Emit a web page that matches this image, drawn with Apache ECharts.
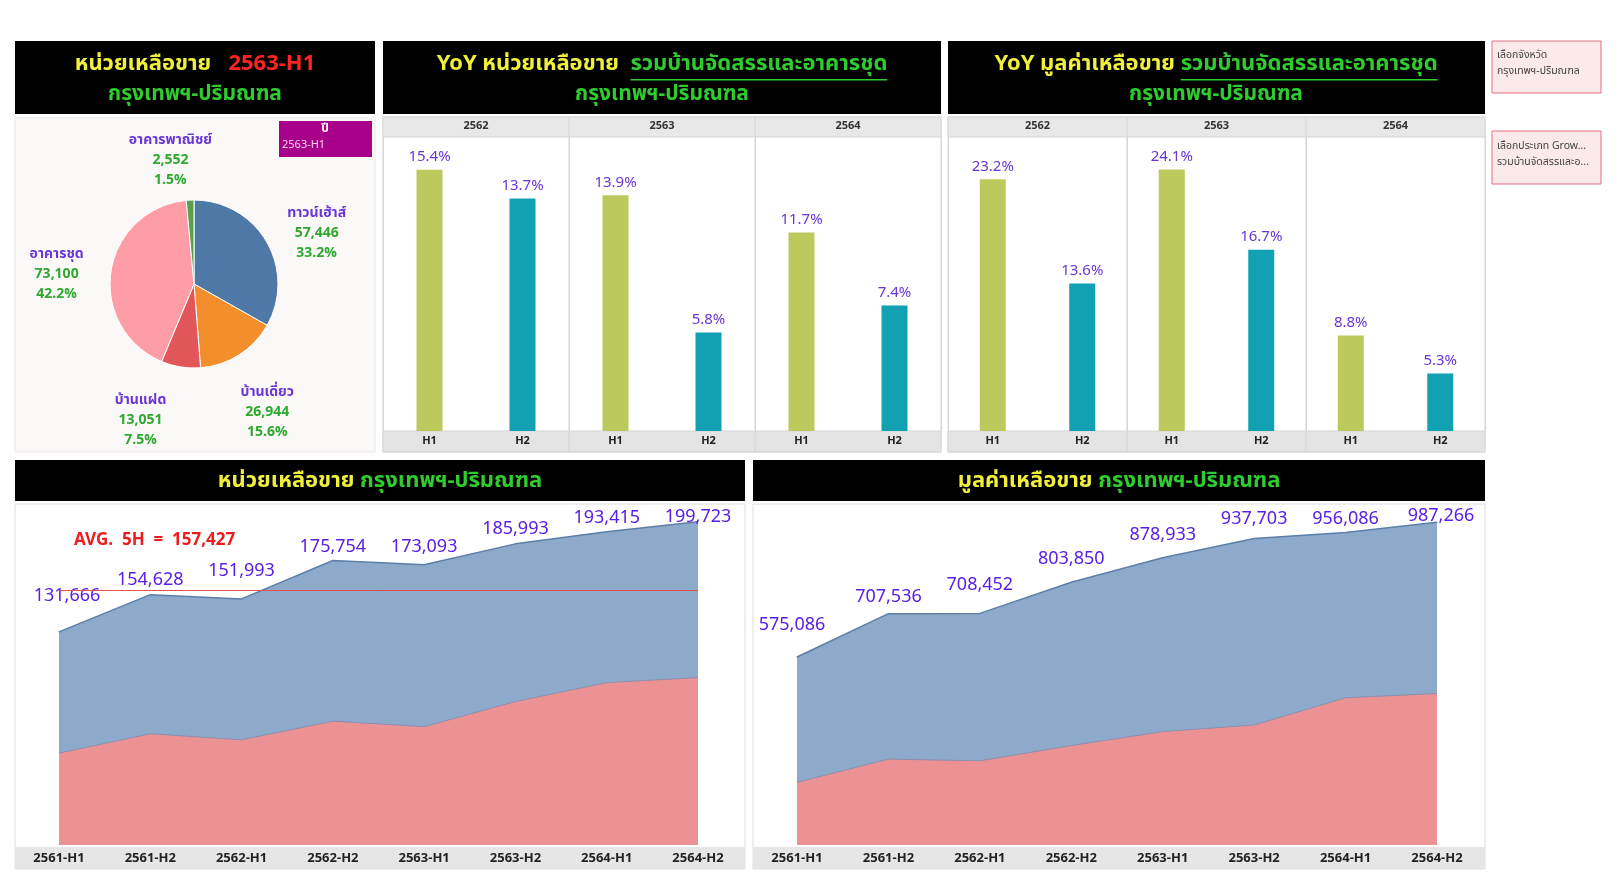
<!DOCTYPE html>
<html><head><meta charset="utf-8">
<script src="https://cdn.jsdelivr.net/npm/echarts@6/dist/echarts.min.js"></script>
<style>html,body{margin:0;padding:0;background:#fff}#c{width:1620px;height:881px}</style>
</head><body><div id="c"></div><script>
const FONT = "Tahoma, 'Noto Sans Thai', 'Noto Sans', 'DejaVu Sans', sans-serif";

// ---------- DATA ----------
const selectedPeriod = '2563-H1';
const pieNames  = ['ทาวน์เฮ้าส์', 'บ้านเดี่ยว', 'บ้านแฝด', 'อาคารชุด', 'อาคารพาณิชย์'];
const pieValues = [57446, 26944, 13051, 73100, 2552];
const pieColors = ['#4e79a7', '#f28e2b', '#e15759', '#ff9da7', '#59a14f'];

const yearCats = ['2562', '2563', '2564'];
const halfCats = ['H1', 'H2', 'H1', 'H2', 'H1', 'H2'];
const yoyUnits = [15.4, 13.7, 13.9, 5.8, 11.7, 7.4];
const yoyValue = [23.2, 13.6, 24.1, 16.7, 8.8, 5.3];

const periods    = ['2561-H1', '2561-H2', '2562-H1', '2562-H2', '2563-H1', '2563-H2', '2564-H1', '2564-H2'];
const unitsTotal = [131666, 154628, 151993, 175754, 173093, 185993, 193415, 199723];
const unitsCondo = [56800, 68700, 65000, 76500, 73100, 88600, 100300, 103400];
const valueTotal = [575086, 707536, 708452, 803850, 878933, 937703, 956086, 987266];
const valueCondo = [191700, 262700, 257600, 304300, 346900, 367200, 450300, 463500];
const avgUnits5H = Math.round(unitsTotal.slice(0, 5).reduce((a, b) => a + b, 0) / 5);

// label nudges (style only, [dx, dy] in px)
const pieLabelNudge   = [[0, 22], [-3, 9], [-31, -3], [3, 13], [-17, 19]];
const unitsLabelNudge = [[8, -15], [0, 6], [0, -7], [0, 7], [0, 3], [0, 6], [0, 7], [0, 16]];
const valueLabelNudge = [[-5, -11], [0, 4], [0, -8], [0, -2], [0, -2], [0, 1], [0, 7], [4, 15]];

// ---------- helpers ----------
const YEL = '#f0f03c', GRN = '#2fcc2f', RED = '#ff2424', PUR = '#6a36d6', LBL = '#5a1fe6';
const fmt = v => echarts.format.addCommas(v);
const mctx = document.createElement('canvas').getContext('2d');
function headerLine(segs, cx, cy, size) {
  const font = `bold ${size}px ${FONT}`;
  mctx.font = font;
  const w = segs.map(s => mctx.measureText(s.t).width);
  let x = cx - w.reduce((a, b) => a + b, 0) / 2;
  const out = [];
  segs.forEach((s, i) => {
    out.push({ type: 'text', x: x, y: cy, z: 100,
      style: { text: s.t, fill: s.c, font: font, textAlign: 'left', align: 'left',
               textVerticalAlign: 'middle', verticalAlign: 'middle' } });
    if (s.u) out.push({ type: 'line', z: 100,
      shape: { x1: x, y1: cy + size * 0.62, x2: x + w[i], y2: cy + size * 0.62 },
      style: { stroke: s.c, lineWidth: 1.5 } });
    x += w[i];
  });
  return out;
}
function rect(x, y, w, h, fill, stroke, z) {
  return { type: 'rect', z: z === undefined ? -10 : z, shape: { x, y, width: w, height: h },
           style: { fill: fill, stroke: stroke || null, lineWidth: 1 } };
}
function txt(x, y, t, color, font, align, z) {
  return { type: 'text', x, y, z: z || 100,
    style: { text: t, fill: color, font: font, textAlign: align || 'left', align: align || 'left',
             textVerticalAlign: 'middle', verticalAlign: 'middle' } };
}

// ---------- layout ----------
const G1 = { left: 383, top: 137, width: 558, height: 294 };
const G2 = { left: 948, top: 137, width: 537, height: 294 };
const A1 = { left: 59, top: 505, width: 639, height: 340 };
const A2 = { left: 797, top: 505, width: 640, height: 340 };

const graphics = [];
graphics.push(rect(15, 41, 360, 73, '#000'));
graphics.push(rect(383, 41, 558, 73, '#000'));
graphics.push(rect(948, 41, 537, 73, '#000'));
graphics.push(rect(15, 460, 730, 41, '#000'));
graphics.push(rect(753, 460, 732, 41, '#000'));
graphics.push(rect(15, 118, 360, 334, '#fbf8f8', '#ece6e6', -20));
[G1, G2].forEach(g => {
  graphics.push(rect(g.left, 117, g.width, 335, '#fff', '#d6d6d6', -20));
  graphics.push(rect(g.left, 117, g.width, 20, '#e8e8e8', '#d6d6d6'));
  graphics.push(rect(g.left, 431, g.width, 21, '#e4e4e4', '#d6d6d6'));
  for (let i = 1; i < 3; i++) {
    const x = g.left + g.width * i / 3;
    graphics.push({ type: 'line', z: -5, shape: { x1: x, y1: 117, x2: x, y2: 452 }, style: { stroke: '#d6d6d6', lineWidth: 1 } });
  }
});
graphics.push(rect(15, 504, 730, 365, '#fff', '#dedede', -20));
graphics.push(rect(753, 504, 732, 365, '#fff', '#dedede', -20));
graphics.push(rect(15, 847, 730, 22, '#e6e6e6', null));
graphics.push(rect(753, 847, 732, 22, '#e6e6e6', null));

graphics.push(...headerLine([{ t: 'หน่วยเหลือขาย   ', c: YEL }, { t: selectedPeriod, c: RED }], 195, 66, 22));
graphics.push(...headerLine([{ t: 'กรุงเทพฯ-ปริมณฑล', c: GRN }], 195, 96, 21));
graphics.push(...headerLine([{ t: 'YoY ', c: YEL }, { t: 'หน่วยเหลือขาย  ', c: YEL }, { t: 'รวมบ้านจัดสรรและอาคารชุด', c: GRN, u: true }], 662, 66, 22));
graphics.push(...headerLine([{ t: 'กรุงเทพฯ-ปริมณฑล', c: GRN }], 662, 96, 21));
graphics.push(...headerLine([{ t: 'YoY ', c: YEL }, { t: 'มูลค่าเหลือขาย ', c: YEL }, { t: 'รวมบ้านจัดสรรและอาคารชุด', c: GRN, u: true }], 1216, 66, 22));
graphics.push(...headerLine([{ t: 'กรุงเทพฯ-ปริมณฑล', c: GRN }], 1216, 96, 21));
graphics.push(...headerLine([{ t: 'หน่วยเหลือขาย ', c: YEL }, { t: 'กรุงเทพฯ-ปริมณฑล', c: GRN }], 380, 483, 22));
graphics.push(...headerLine([{ t: 'มูลค่าเหลือขาย ', c: YEL }, { t: 'กรุงเทพฯ-ปริมณฑล', c: GRN }], 1119, 483, 22));

graphics.push(rect(279, 121, 93, 36, '#a8008a', null, 50));
graphics.push(txt(325, 130, 'ปี', '#fff', `bold 12px ${FONT}`, 'center'));
graphics.push(txt(282, 146, selectedPeriod, '#f3d2ee', `11px ${FONT}`, 'left'));

graphics.push(rect(1492, 41, 109, 52, '#fce9e9', '#e07080', 50));
graphics.push(txt(1497, 56, 'เลือกจังหวัด', '#444', `10.5px ${FONT}`));
graphics.push(txt(1497, 72, 'กรุงเทพฯ-ปริมณฑล', '#444', `10.5px ${FONT}`));
graphics.push(rect(1492, 131, 109, 53, '#fce9e9', '#e07080', 50));
graphics.push(txt(1497, 147, 'เลือกประเภท Grow...', '#444', `10.5px ${FONT}`));
graphics.push(txt(1497, 163, 'รวมบ้านจัดสรรและอ...', '#444', `10.5px ${FONT}`));

graphics.push(txt(74, 542, 'AVG.  5H  =  ' + fmt(avgUnits5H), '#ee1c1c', `bold 17px ${FONT}`));

// ---------- option ----------
const pieTotal = pieValues.reduce((a, b) => a + b, 0);
const pieData = pieNames.map((n, i) => ({ name: n, value: pieValues[i], itemStyle: { color: pieColors[i] } }));

function barAxes(idx) {
  return [
    { gridIndex: idx, type: 'category', data: halfCats, position: 'bottom',
      axisLine: { show: false }, axisTick: { show: false },
      axisLabel: { color: '#222', fontWeight: 'bold', fontSize: 11, fontFamily: FONT, margin: 5 } },
    { gridIndex: idx, type: 'category', data: yearCats, position: 'top',
      axisLine: { show: false }, axisTick: { show: false },
      splitLine: { show: true, lineStyle: { color: '#d6d6d6' } },
      axisLabel: { color: '#333', fontWeight: 'bold', fontSize: 11, fontFamily: FONT, margin: 5 } }
  ];
}
function barSeries(data, xi, yi) {
  return {
    type: 'bar', xAxisIndex: xi, yAxisIndex: yi, data: data, barWidth: 26,
    itemStyle: { color: p => (p.dataIndex % 2 === 0 ? '#bcc95c' : '#12a1b3') },
    label: { show: true, position: 'top', distance: 4, color: PUR, fontSize: 15, fontFamily: FONT,
             formatter: p => p.value + '%' }
  };
}
function areaAxis(idx) {
  return { gridIndex: idx, type: 'category', data: periods, boundaryGap: false,
    axisLine: { show: false }, axisTick: { show: false },
    axisLabel: { color: '#222', fontWeight: 'bold', fontSize: 13, fontFamily: FONT, margin: 8 } };
}
function areaSeries(total, condo, nudge, xi, yi, withAvg) {
  const s = [{
    type: 'line', xAxisIndex: xi, yAxisIndex: yi, data: total, z: 2,
    symbol: 'circle', symbolSize: 1, showSymbol: true, itemStyle: { color: '#5b7fa8' },
    lineStyle: { color: '#5b7fa8', width: 1.5 }, areaStyle: { color: '#8eaaca', opacity: 1 },
    labelLayout: p => ({ dx: nudge[p.dataIndex][0], dy: nudge[p.dataIndex][1] }),
    label: { show: true, position: 'top', distance: 10, color: LBL, fontSize: 18, fontFamily: FONT,
             formatter: p => fmt(p.value) }
  }, {
    type: 'line', xAxisIndex: xi, yAxisIndex: yi, data: condo, symbol: 'none', z: 3,
    lineStyle: { color: '#8a8fae', width: 1 }, areaStyle: { color: '#ec9294', opacity: 1 }
  }];
  if (withAvg) {
    s[1].markLine = { silent: true, symbol: 'none', label: { show: false }, z: 10,
      lineStyle: { color: '#e05050', width: 1, type: 'solid' }, data: [{ yAxis: avgUnits5H }] };
  }
  return s;
}

const option = {
  animation: false,
  textStyle: { fontFamily: FONT },
  grid: [G1, G2, A1, A2].map(g => Object.assign({ containLabel: false }, g)),
  xAxis: [...barAxes(0), ...barAxes(1), areaAxis(2), areaAxis(3)],
  yAxis: [
    { gridIndex: 0, type: 'value', min: 0, max: 17.33, show: false, splitLine: { show: false } },
    { gridIndex: 1, type: 'value', min: 0, max: 27.1, show: false, splitLine: { show: false } },
    { gridIndex: 2, type: 'value', min: 0, max: 210000, show: false, splitLine: { show: false } },
    { gridIndex: 3, type: 'value', min: 0, max: 1040000, show: false, splitLine: { show: false } }
  ],
  series: [
    { type: 'pie', center: [194, 284], radius: [0, 84], startAngle: 90, clockwise: true,
      data: pieData, label: { show: false }, labelLine: { show: false },
      itemStyle: { borderColor: '#fff', borderWidth: 1 } },
    { type: 'pie', center: [194, 284], radius: [118, 160], startAngle: 90, clockwise: true, silent: true,
      data: pieNames.map((n, i) => ({ name: n, value: pieValues[i] })),
      itemStyle: { color: 'rgba(0,0,0,0)' }, labelLine: { show: false },
      labelLayout: p => ({ dx: pieLabelNudge[p.dataIndex][0], dy: pieLabelNudge[p.dataIndex][1] }),
      label: { show: true, position: 'inside', lineHeight: 20, fontFamily: FONT,
        formatter: p => `{n|${p.name}}\n{v|${fmt(p.value)}}\n{v|${(p.value / pieTotal * 100).toFixed(1)}%}`,
        rich: { n: { color: PUR, fontWeight: 'bold', fontSize: 14, fontFamily: FONT, lineHeight: 20 },
                v: { color: '#2ea82e', fontWeight: 'bold', fontSize: 14, fontFamily: FONT, lineHeight: 20 } } } },
    barSeries(yoyUnits, 0, 0),
    barSeries(yoyValue, 2, 1),
    ...areaSeries(unitsTotal, unitsCondo, unitsLabelNudge, 4, 2, true),
    ...areaSeries(valueTotal, valueCondo, valueLabelNudge, 5, 3, false)
  ],
  graphic: { elements: graphics }
};

const chart = echarts.init(document.getElementById('c'));
chart.setOption(option);
</script></body></html>
